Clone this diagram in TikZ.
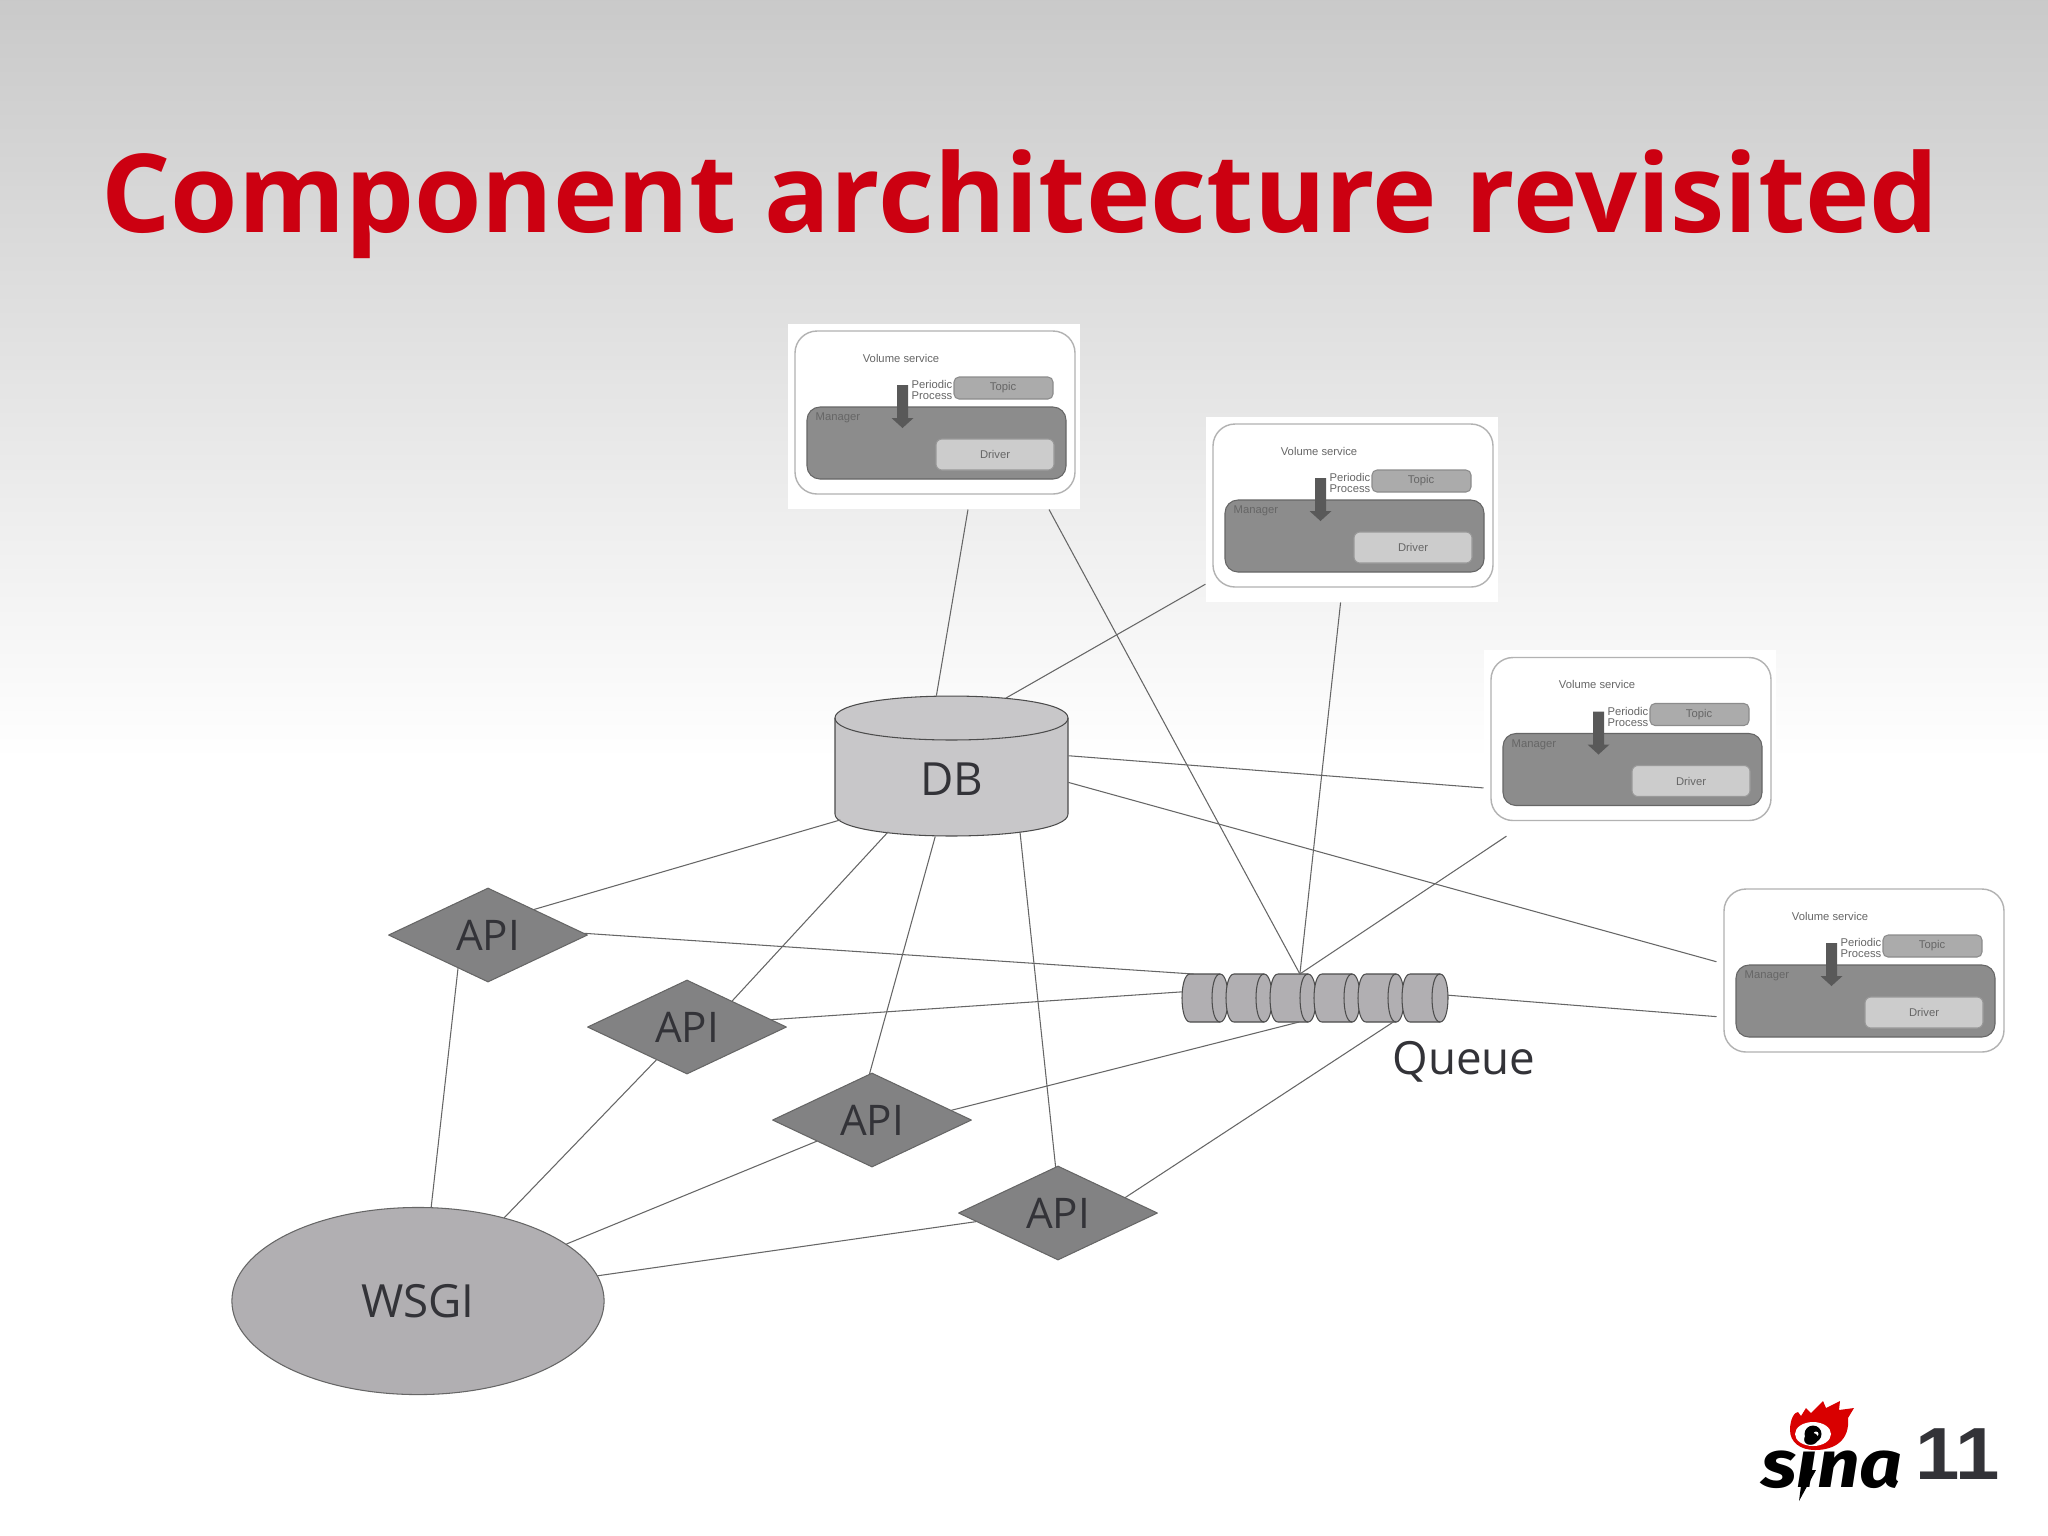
\documentclass[tikz,border=0pt]{standalone}
\usepackage{fontspec}
\setmainfont{Open Sans}
\newfontfamily\titlefont{Open Sans}
\newfontfamily\logofont{Fira Sans}
\newfontfamily\smallfont{Liberation Sans}
\usetikzlibrary{shapes.geometric}

\definecolor{titlered}{HTML}{CC0011}
\definecolor{darktext}{HTML}{333338}
\definecolor{shapegray}{HTML}{B1AFB2}
\definecolor{apigray}{HTML}{828283}

\tikzset{
  whitebox/.style={fill=white, minimum width=2.92cm, minimum height=1.85cm, inner sep=0pt},
  conn/.style={draw=black!60, line width=0.3pt},
  apinode/.style={diamond, draw=black!60, line width=0.3pt, fill=apigray, aspect=2.1,
    minimum width=1.99cm, minimum height=0.94cm, inner sep=0pt, text=darktext, font=\fontsize{12}{14}\selectfont},
  qbody/.style={rectangle, minimum width=0.46cm, minimum height=0.48cm, inner sep=0pt, outer sep=0pt},
  cyline/.style={draw=black!70, line width=0.3pt},
  tiny/.style={font=\smallfont\fontsize{3.2}{3.8}\selectfont, text=black!60, inner sep=0pt},
  % one segment of the queue, lying on its side
  qcylinder/.pic={
    \draw[cyline, fill=shapegray] (-15,-24) -- (15,-24) .. controls (25.67,-24) and (25.67,24) .. (15,24) -- (-15,24)
      .. controls (-25.67,24) and (-25.67,-24) .. (-15,-24) -- cycle;
    \draw[cyline] (15,-24) .. controls (4.33,-24) and (4.33,24) .. (15,24);
  },
  % the database, standing
  dbcylinder/.pic={
    \draw[cyline, fill=shapegray!70!white] (-116.5,-48) .. controls (-116.5,-77.3) and (116.5,-77.3) .. (116.5,-48) -- (116.5,48)
      .. controls (116.5,77.3) and (-116.5,77.3) .. (-116.5,48) -- cycle;
    \draw[cyline] (-116.5,-48) .. controls (-116.5,-18.7) and (116.5,-18.7) .. (116.5,-48);
  },
  volservice/.pic={
    \draw[black!30, line width=0.4pt, fill=white, rounded corners=0.22cm] (-139,-85.5) rectangle (141,77.5);
    \draw[black!60, line width=0.3pt, fill=black!45, rounded corners=0.13cm] (-127,-9.5) rectangle (132,62.5);
    \draw[black!40, line width=0.3pt, fill=black!20, rounded corners=0.06cm] (2,22.5) rectangle (120,53.5);
    \draw[black!45, line width=0.3pt, fill=black!33, rounded corners=0.05cm] (20,-39.5) rectangle (119,-17.5);
    \fill[black!65] (-37,-31.5) -- (-26,-31.5) -- (-26,1.5) -- (-20.5,1.5) -- (-31.5,11.5) -- (-42.5,1.5) -- (-37,1.5) -- cycle;
    \node[tiny] at (-33,-58.5) {Volume service};
    \node[tiny, anchor=west] at (-23,-32) {Periodic};
    \node[tiny, anchor=west] at (-23,-20.5) {Process};
    \node[tiny, anchor=west] at (-119,1.5) {Manager};
    \node[tiny] at (61,38) {Driver};
    \node[tiny] at (69,-28.5) {Topic};
  }
}

\begin{document}
\begin{tikzpicture}[x=0.01cm, y=-0.01cm, line cap=round, line join=round]
  \useasboundingbox (0,0) rectangle (2048,1535);

  % background
  \fill[white] (0,0) rectangle (2048,1535);
  \shade[top color=black!21, bottom color=white] (0,0) rectangle (2048,760);

  % title
  \node[text=titlered, anchor=base, font=\titlefont\bfseries\fontsize{31}{40}\selectfont, inner sep=0pt] (title) at (1020,232.5) {Component architecture revisited};

  % volume services
  \node[whitebox] (box1) at (934,416.5) {};
  \node[whitebox] (box2) at (1352,509.5) {};
  \node[whitebox] (box3) at (1630,743) {};
  \node[whitebox] (box4) at (1863,974.5) {};
  \foreach \b in {box1,box2,box3,box4} \pic at (\b) {volservice};

  % database, API servers, WSGI
  \pic at (951.5,766) {dbcylinder};
  \node[inner sep=0pt, minimum width=2.33cm, minimum height=1.40cm] (db) at (951.5,766) {};
  \node[text=darktext, font=\fontsize{13}{16}\selectfont, inner sep=0pt] (dblabel) at (952,779) {DB};
  \coordinate (dbtop) at (1006,698);
  \coordinate (dbleft) at (840,820);
  \coordinate (dbfront) at (888,832);
  \coordinate (dbback) at (1020,832);
  \node[apinode] (api1) at (488,935) {API};
  \node[apinode] (api2) at (687,1027) {API};
  \node[apinode] (api3) at (872,1120) {API};
  \node[apinode] (api4) at (1058,1213) {API};
  \node[ellipse, draw=black!60, line width=0.3pt, fill=shapegray, minimum width=3.72cm, minimum height=1.87cm,
    inner sep=0pt, text=darktext, font=\fontsize{13}{16}\selectfont] (wsgi) at (418,1301) {WSGI};

  % queue
  \foreach \i/\x in {1/1205,2/1249,3/1293,4/1337,5/1381,6/1425} {
    \pic at (\x,998) {qcylinder};
    \node[qbody] (q\i) at (\x,998) {};
  }
  \node[text=darktext, font=\fontsize{13}{16}\selectfont, inner sep=0pt] (queue) at (1464,1062) {Queue};

  % connectors
  \foreach \a/\b in {box1.-70/db.102, box2.207/dbtop, box3.197.6/db.5.4, box4.175.4/db.-8,
    box1.-39.3/q3.74, box2.263/q3.74, box3.217.7/q3.74, box4.196.5/q6.7.4,
    dbleft/api1.29.7, dbfront/api2.30.5, db.257.9/api3.93.3, dbback/api4.93.2,
    api1.1.5/q1.116.6, api2.5.2/q1.165, api3.7.4/q3.284, api4.13.3/q5.297.6,
    wsgi.82.3/api1.228.5, wsgi.44.6/api2.227.4, wsgi.21.6/api3.201.3, wsgi.8/api4.186.1}
    \draw[conn] (\a) -- (\b);

  % logo
  \fill[red!85!black] (1790,1430) .. controls (1790,1418) and (1795,1412) .. (1798,1412) -- (1801,1416) -- (1806,1408) -- (1811,1413) -- (1823,1401) -- (1826,1408) -- (1840,1401) -- (1839,1410) -- (1854,1408) -- (1848,1418)
    .. controls (1850,1440) and (1835,1450) .. (1815,1450) .. controls (1800,1450) and (1790,1442) .. (1790,1430) -- cycle;
  \fill[white] (1813,1434) ellipse (18 and 12);
  \fill[black] (1813,1434) circle (8.5);
  \fill[white] (1816,1434) circle (2.5);
  \node[font=\logofont\bfseries\itshape\fontsize{19}{20}\selectfont, text=black, inner sep=0pt, xscale=1.12, transform shape] (sina) at (1832,1461) {sina};
  \fill[black] (1803,1470) -- (1816,1470) -- (1799,1501) -- cycle;
  \node[font=\smallfont\bfseries\fontsize{21}{24}\selectfont, text=darktext, inner sep=0pt, xscale=1.08, transform shape] (pageno) at (1958,1454) {11};
\end{tikzpicture}
\end{document}
